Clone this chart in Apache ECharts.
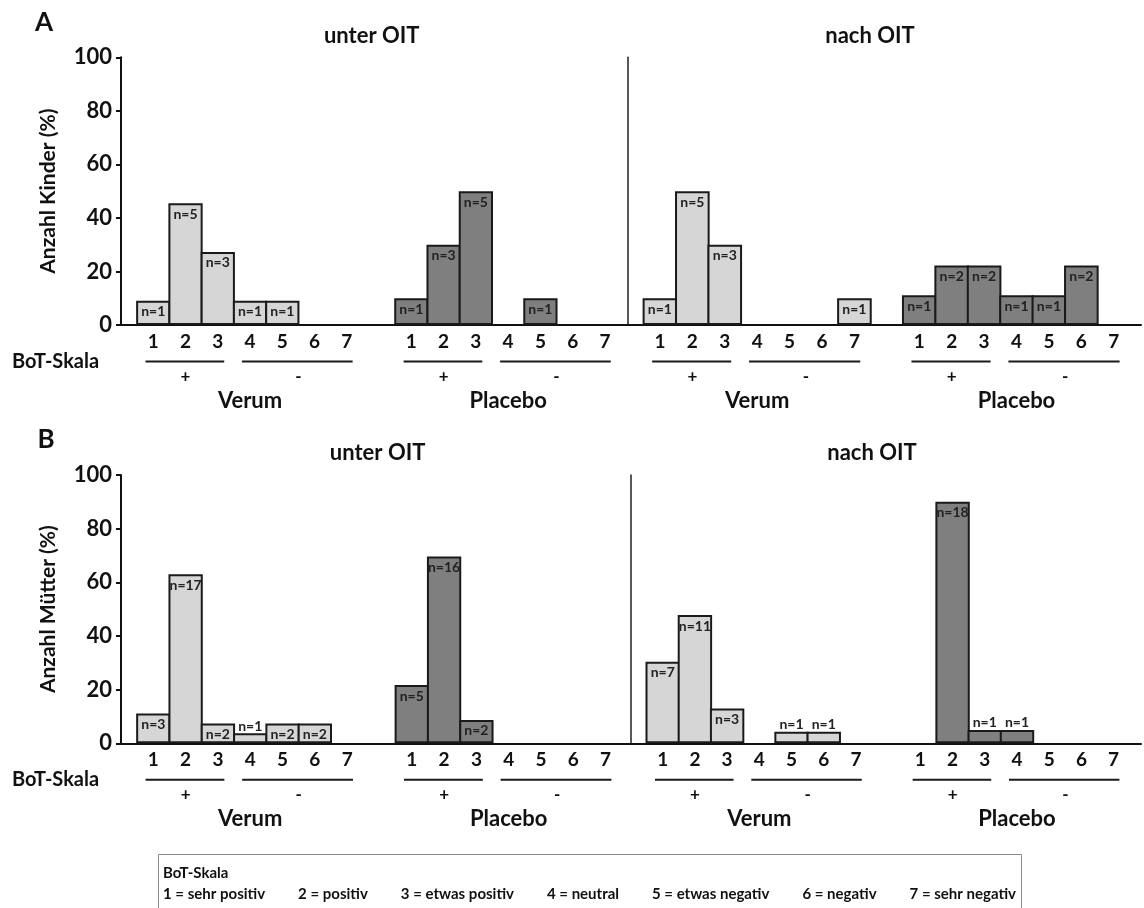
<!DOCTYPE html>
<html><head><meta charset="utf-8">
<script src="https://cdn.jsdelivr.net/npm/echarts@6/dist/echarts.min.js"></script>
<style>html,body{margin:0;padding:0;background:#fff}#c{width:1144px;height:908px}</style>
</head><body><div id="c"></div><script>
// ---------- data ----------
const scaleLabels = ['1','2','3','4','5','6','7'];
const groupNames = ['Verum','Placebo'];
const periodNames = ['unter OIT','nach OIT'];
const panelLetters = ['A','B'];
const yAxisNames = ['Anzahl Kinder (%)','Anzahl Mütter (%)'];
const signLabels = ['+','-'];
const legendTitle = 'BoT-Skala';
const legendItems = ['1 = sehr positiv','2 = positiv','3 = etwas positiv','4 = neutral','5 = etwas negativ','6 = negativ','7 = sehr negativ'];

// Panel A – Kinder (% per BoT-Skala 1..7) and counts
const kinderUnterVerum    = [9.1, 45.5, 27.3, 9.1, 9.1, 0, 0];
const kinderUnterVerumN   = [1, 5, 3, 1, 1, 0, 0];
const kinderUnterPlacebo  = [10, 30, 50, 0, 10, 0, 0];
const kinderUnterPlaceboN = [1, 3, 5, 0, 1, 0, 0];
const kinderNachVerum     = [10, 50, 30, 0, 0, 0, 10];
const kinderNachVerumN    = [1, 5, 3, 0, 0, 0, 1];
const kinderNachPlacebo   = [11.1, 22.2, 22.2, 11.1, 11.1, 22.2, 0];
const kinderNachPlaceboN  = [1, 2, 2, 1, 1, 2, 0];

// Panel B – Mütter
const muetterUnterVerum    = [11.1, 63.0, 7.4, 3.7, 7.4, 7.4, 0];
const muetterUnterVerumN   = [3, 17, 2, 1, 2, 2, 0];
const muetterUnterPlacebo  = [21.7, 69.6, 8.7, 0, 0, 0, 0];
const muetterUnterPlaceboN = [5, 16, 2, 0, 0, 0, 0];
const muetterNachVerum     = [30.4, 47.8, 13.0, 0, 4.3, 4.3, 0];
const muetterNachVerumN    = [7, 11, 3, 0, 1, 1, 0];
const muetterNachPlacebo   = [0, 90, 5, 5, 0, 0, 0];
const muetterNachPlaceboN  = [0, 18, 1, 1, 0, 0, 0];

// ---------- layout / style ----------
const FONT = 'Lato, "Open Sans", sans-serif';
const INK = '#111';
const VERUM_COLOR = '#d6d6d6';
const PLACEBO_COLOR = '#7f7f7f';
const BORDER = 2;
const grids = [
  {left:121,   top:57.3, width:506.5, height:267.7, max:15.70, offset:0,   panel:0, period:0},
  {left:627.5, top:57.3, width:516.5, height:267.7, max:15.84, offset:1.5, panel:0, period:1},
  {left:121,   top:475,  width:509.5, height:268.3, max:15.77, offset:0,   panel:1, period:0},
  {left:630.5, top:475,  width:513.5, height:268.3, max:15.85, offset:0,   panel:1, period:1}
];
const gridData = [
  [[kinderUnterVerum, kinderUnterVerumN], [kinderUnterPlacebo, kinderUnterPlaceboN]],
  [[kinderNachVerum, kinderNachVerumN], [kinderNachPlacebo, kinderNachPlaceboN]],
  [[muetterUnterVerum, muetterUnterVerumN], [muetterUnterPlacebo, muetterUnterPlaceboN]],
  [[muetterNachVerum, muetterNachVerumN], [muetterNachPlacebo, muetterNachPlaceboN]]
];
const titlePos = [[371.7, 36, 870, 36], [377.6, 453, 872, 453]];
const letterPos = [[44, 23], [46, 440]];

function catLabel(v){
  const i = Math.round(v);
  if (Math.abs(v - i) > 1e-6) return '';
  if (i >= 1 && i <= 7) return scaleLabels[i-1];
  if (i >= 9 && i <= 15) return scaleLabels[i-9];
  return '';
}

function barItems(vals, ns, off){
  const out = [];
  vals.forEach((v, i) => {
    if (v > 0) out.push({
      value: [off + i + 1, v],
      label: {position: v < 6 ? 'top' : 'insideTop', distance: v < 6 ? 0 : 4, formatter: 'n=' + ns[i]}
    });
  });
  return out;
}

const option = {
  animation: false,
  backgroundColor: '#fff',
  grid: grids.map(g => ({left: g.left, top: g.top, width: g.width, height: g.height, containLabel: false})),
  xAxis: grids.map((g, i) => ({
    type: 'value', gridIndex: i, min: 0, max: g.max, interval: 1,
    axisLine: {show: true, onZero: false, lineStyle: {color: INK, width: 2}},
    axisTick: {show: false}, splitLine: {show: false},
    axisLabel: {show: true, formatter: catLabel, margin: 7, fontFamily: FONT, fontSize: 19, fontWeight: 'bold', color: INK,
                showMinLabel: true, showMaxLabel: true}
  })),
  yAxis: grids.map((g, i) => g.period === 0 ? ({
    type: 'value', gridIndex: i, min: 0, max: 100, interval: 20,
    name: yAxisNames[g.panel], nameLocation: 'middle', nameRotate: 90, nameGap: 62,
    nameTextStyle: {fontFamily: FONT, fontSize: 21, fontWeight: 'bold', color: INK},
    axisLine: {show: true, lineStyle: {color: INK, width: 2}},
    axisTick: {show: true, length: 5, lineStyle: {color: INK, width: 2}},
    splitLine: {show: false},
    axisLabel: {margin: 9, fontFamily: FONT, fontSize: 22, fontWeight: 'bold', color: INK}
  }) : ({
    type: 'value', gridIndex: i, min: 0, max: 100, interval: 20, offset: g.offset,
    axisLine: {show: true, lineStyle: {color: '#222', width: 1.5}},
    axisTick: {show: false}, axisLabel: {show: false}, splitLine: {show: false}
  })),
  series: []
};

grids.forEach((g, i) => {
  const bw = g.width / g.max + BORDER;
  [VERUM_COLOR, PLACEBO_COLOR].forEach((col, k) => {
    const [vals, ns] = gridData[i][k];
    option.series.push({
      type: 'bar', name: groupNames[k], xAxisIndex: i, yAxisIndex: i,
      barWidth: bw, barGap: '-100%', silent: true,
      itemStyle: {color: col, borderColor: '#1a1a1a', borderWidth: BORDER},
      label: {show: true, fontFamily: FONT, fontSize: 14, fontWeight: 'bold', color: '#222'},
      data: barItems(vals, ns, k * 8)
    });
  });
});

const chart = echarts.init(document.getElementById('c'), null, {renderer: 'canvas'});
chart.setOption(option);

// ---------- annotations placed through the axes ----------
function txt(x, y, text, size, align, weight){
  return {type: 'text', silent: true, x: x, y: y, style: {
    text: text, font: (weight || 'bold') + ' ' + size + 'px ' + FONT, fill: INK,
    align: align || 'center', verticalAlign: 'middle', textAlign: align || 'center', textVerticalAlign: 'middle'}};
}
function hline(x1, x2, y){
  return {type: 'line', silent: true, shape: {x1: x1, y1: y, x2: x2, y2: y}, style: {stroke: '#1a1a1a', lineWidth: 2}};
}
const gfx = [];
grids.forEach((g, i) => {
  const base = chart.convertToPixel({yAxisIndex: i}, 0);
  const px = v => chart.convertToPixel({xAxisIndex: i}, v);
  [0, 8].forEach((off, k) => {
    gfx.push(hline(px(off + 1 - 0.24), px(off + 3 + 0.2), base + 36.5));
    gfx.push(hline(px(off + 4 - 0.25), px(off + 7 + 0.18), base + 36.5));
    gfx.push(txt(px(off + 2), base + 51.5, signLabels[0], 17));
    gfx.push(txt(px(off + 5.5), base + 51.5, signLabels[1], 17));
    gfx.push(txt(px(off + 4), base + 75.5, groupNames[k], 22));
  });
  if (g.period === 0) {
    gfx.push(txt(12, base + 36.5, legendTitle, 20, 'left'));
  }
});
panelLetters.forEach((p, j) => {
  gfx.push(txt(letterPos[j][0], letterPos[j][1], p, 26));
  gfx.push(txt(titlePos[j][0], titlePos[j][1], periodNames[0], 22));
  gfx.push(txt(titlePos[j][2], titlePos[j][3], periodNames[1], 22));
});

// legend box
(function(){
  const ctx = document.createElement('canvas').getContext('2d');
  const size = 15;
  ctx.font = 'bold ' + size + 'px ' + FONT;
  const x0 = 163, endTarget = 1016;
  const widths = legendItems.map(t => ctx.measureText(t).width);
  const total = widths.reduce((a, b) => a + b, 0);
  const gap = (endTarget - x0 - total) / (legendItems.length - 1);
  gfx.push({type: 'rect', silent: true, shape: {x: 158.5, y: 854.5, width: 863, height: 70},
            style: {fill: '#fff', stroke: '#8a8a8a', lineWidth: 1}});
  gfx.push(txt(x0, 873, legendTitle, size, 'left'));
  let x = x0;
  legendItems.forEach((t, i) => {
    gfx.push(txt(x, 894, t, size, 'left'));
    x += widths[i] + gap;
  });
})();

chart.setOption({graphic: {elements: gfx}});
</script></body></html>
